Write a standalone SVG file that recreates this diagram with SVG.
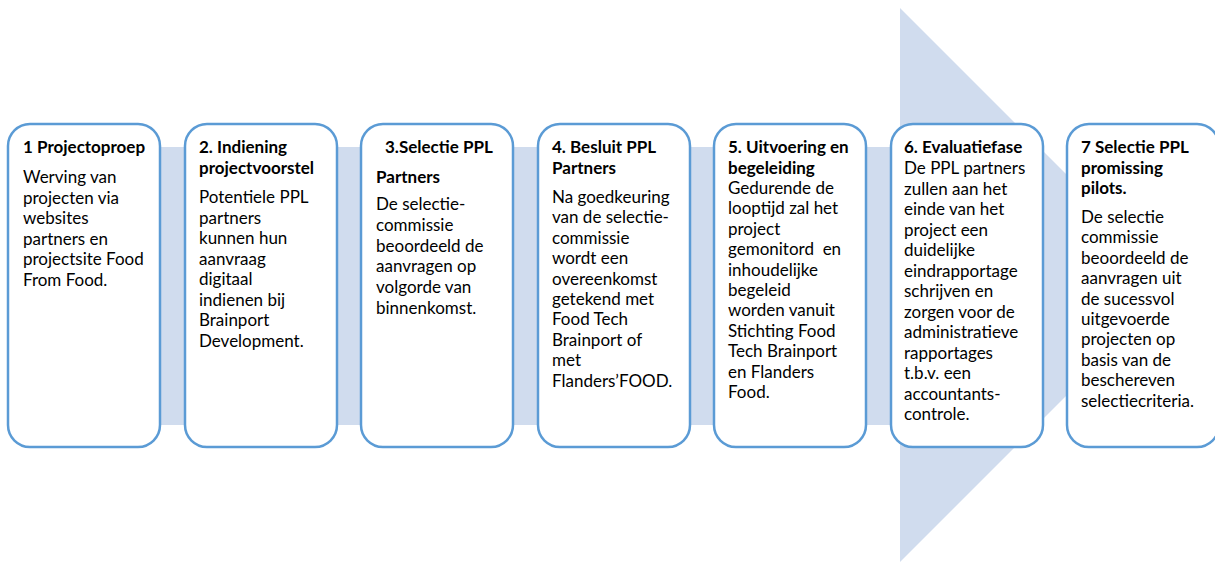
<svg xmlns="http://www.w3.org/2000/svg" width="1215" height="562" viewBox="0 0 1215 562">
<style>
.box{fill:#FFFFFF;stroke:#5B9BD5;stroke-width:2.5}
.arrow{fill:#D0DCEE;stroke:none}
text{font-family:Lato,"Open Sans","Liberation Sans",sans-serif;font-size:17px;fill:#000000}
.t{font-weight:bold}
</style>
<rect width="1215" height="562" fill="#FFFFFF"/>
<g id="connectors">
<path class="arrow" d="M20,147 L900,147 L900,8 L1177,285 L900,562 L900,425 L20,425 Z"/>
</g>
<g id="step1">
<rect class="box" x="8" y="124" width="152" height="323" rx="22"/>
<text x="23" y="153" class="t">1 Projectoproep</text>
<text x="23" y="183">Werving van</text>
<text x="23" y="203.5">projecten via</text>
<text x="23" y="224">websites</text>
<text x="23" y="244.5">partners en</text>
<text x="23" y="265">projectsite Food</text>
<text x="23" y="285.5">From Food.</text>
</g>
<g id="step2">
<rect class="box" x="185" y="124" width="152" height="323" rx="22"/>
<text x="199" y="153" class="t">2. Indiening</text>
<text x="199" y="174" class="t">projectvoorstel</text>
<text x="199" y="203">Potentiele PPL</text>
<text x="199" y="223.5">partners</text>
<text x="199" y="244">kunnen hun</text>
<text x="199" y="264.5">aanvraag</text>
<text x="199" y="285">digitaal</text>
<text x="199" y="305.5">indienen bij</text>
<text x="199" y="326">Brainport</text>
<text x="199" y="346.5">Development.</text>
</g>
<g id="step3">
<rect class="box" x="361" y="124" width="152" height="323" rx="22"/>
<text x="385" y="153" class="t">3.Selectie PPL</text>
<text x="376" y="183" class="t">Partners</text>
<text x="376" y="210">De selectie-</text>
<text x="376" y="230.8">commissie</text>
<text x="376" y="251.6">beoordeeld de</text>
<text x="376" y="272.4">aanvragen op</text>
<text x="376" y="293.2">volgorde van</text>
<text x="376" y="314">binnenkomst.</text>
</g>
<g id="step4">
<rect class="box" x="538" y="124" width="152" height="323" rx="22"/>
<text x="552" y="153" class="t">4. Besluit PPL</text>
<text x="552" y="174" class="t">Partners</text>
<text x="552" y="203">Na goedkeuring</text>
<text x="552" y="223.4">van de selectie-</text>
<text x="552" y="243.8">commissie</text>
<text x="552" y="264.2">wordt een</text>
<text x="552" y="284.6">overeenkomst</text>
<text x="552" y="305">getekend met</text>
<text x="552" y="325.4">Food Tech</text>
<text x="552" y="345.8">Brainport of</text>
<text x="552" y="366.2">met</text>
<text x="552" y="386.6">Flanders’FOOD.</text>
</g>
<g id="step5">
<rect class="box" x="714" y="124" width="152" height="323" rx="22"/>
<text x="728" y="153" class="t">5. Uitvoering en</text>
<text x="728" y="173.5" class="t">begeleiding</text>
<text x="728" y="194">Gedurende de</text>
<text x="728" y="214.4">looptijd zal het</text>
<text x="728" y="234.8">project</text>
<text x="728" y="255.2" xml:space="preserve">gemonitord  en</text>
<text x="728" y="275.6">inhoudelijke</text>
<text x="728" y="296">begeleid</text>
<text x="728" y="316.4">worden vanuit</text>
<text x="728" y="336.8">Stichting Food</text>
<text x="728" y="357.2">Tech Brainport</text>
<text x="728" y="377.6">en Flanders</text>
<text x="728" y="398">Food.</text>
</g>
<g id="step6">
<rect class="box" x="891" y="124" width="152" height="323" rx="22"/>
<text x="904" y="153" class="t">6. Evaluatiefase</text>
<text x="904" y="174">De PPL partners</text>
<text x="904" y="194.5">zullen aan het</text>
<text x="904" y="215">einde van het</text>
<text x="904" y="235.5">project een</text>
<text x="904" y="256">duidelijke</text>
<text x="904" y="276.5">eindrapportage</text>
<text x="904" y="297">schrijven en</text>
<text x="904" y="317.5">zorgen voor de</text>
<text x="904" y="338">administratieve</text>
<text x="904" y="358.5">rapportages</text>
<text x="904" y="379">t.b.v. een</text>
<text x="904" y="399.5">accountants-</text>
<text x="904" y="420">controle.</text>
</g>
<g id="step7">
<rect class="box" x="1067" y="124" width="152" height="323" rx="22"/>
<text x="1081" y="153" class="t">7 Selectie PPL</text>
<text x="1081" y="173.5" class="t">promissing</text>
<text x="1081" y="194" class="t">pilots.</text>
<text x="1081" y="223">De selectie</text>
<text x="1081" y="243.4">commissie</text>
<text x="1081" y="263.8">beoordeeld de</text>
<text x="1081" y="284.2">aanvragen uit</text>
<text x="1081" y="304.6">de sucessvol</text>
<text x="1081" y="325">uitgevoerde</text>
<text x="1081" y="345.4">projecten op</text>
<text x="1081" y="365.8">basis van de</text>
<text x="1081" y="386.2">beschereven</text>
<text x="1081" y="406.6">selectiecriteria.</text>
</g>
</svg>
